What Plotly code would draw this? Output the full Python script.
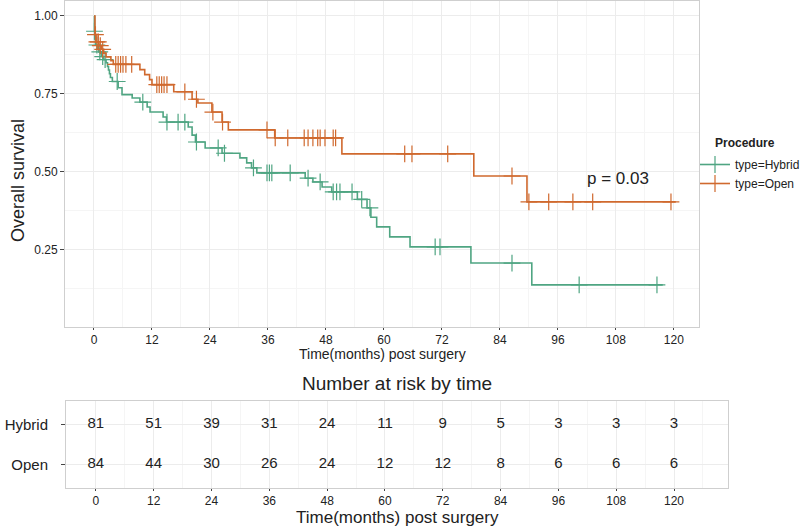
import numpy as np
import plotly.graph_objects as go

# ---------------- data ----------------
hybrid_time = [0, 0.1, 0.2, 0.3, 0.8, 1.0, 1.5, 2.0, 2.5, 2.8, 3.0, 3.2, 3.4, 3.8, 5.0, 5.8,
               7.9, 9.5, 11.0, 11.6, 14.3, 15.0, 19.5, 20.3, 21.0, 23.0, 26.5, 30.2, 31.6,
               32.6, 33.7, 43.7, 45.3, 47.2, 49.2, 54.5, 56.5, 57.3, 58.5, 61.2, 65.4, 78.0,
               90.6, 117.7]
hybrid_surv = [1.0, 0.951, 0.926, 0.907, 0.895, 0.885, 0.870, 0.860, 0.850, 0.838, 0.827, 0.815,
               0.803, 0.790, 0.770, 0.748, 0.737, 0.724, 0.708, 0.692, 0.676, 0.660, 0.644,
               0.618, 0.596, 0.577, 0.560, 0.545, 0.529, 0.513, 0.497, 0.480, 0.468, 0.452,
               0.436, 0.412, 0.385, 0.355, 0.324, 0.292, 0.260, 0.208, 0.138, 0.138]
hybrid_censor = [0.1, 0.6, 1.2, 1.8, 2.3, 4.8, 10.1, 15.1, 17.4, 18.8, 21.2, 25.7, 27.0, 33.0,
                 35.8, 36.3, 36.8, 40.6, 44.3, 46.8, 49.5, 50.2, 50.9, 53.4, 55.4, 57.1,
                 70.6, 71.6, 86.5, 100.4, 116.5]

open_time = [0, 0.2, 0.4, 1.0, 1.5, 2.0, 2.5, 3.5, 4.0, 9.5, 10.5, 11.5, 12.0, 16.5, 20.3,
             21.5, 24.4, 26.5, 27.8, 37.4, 51.3, 78.6, 89.6, 120.4]
open_surv = [1.0, 0.940, 0.917, 0.905, 0.893, 0.881, 0.869, 0.857, 0.845, 0.828, 0.812, 0.796,
             0.780, 0.757, 0.733, 0.721, 0.692, 0.660, 0.635, 0.609, 0.558, 0.487, 0.404, 0.404]
open_censor = [0.3, 0.6, 0.9, 1.3, 1.8, 4.5, 5.0, 5.5, 6.0, 6.6, 7.8, 13.0, 13.5, 14.0, 14.5,
               15.1, 18.8, 21.2, 24.6, 26.6, 35.8, 37.5, 40.1, 43.5, 44.3, 45.3, 46.3, 46.8,
               47.8, 49.5, 50.0, 64.3, 65.8, 73.2, 86.5, 90.0, 94.1, 99.1, 103.2, 119.4]

risk_times = [0, 12, 24, 36, 48, 60, 72, 84, 96, 108, 120]
risk_hybrid = [81, 51, 39, 31, 24, 11, 9, 5, 3, 3, 3]
risk_open = [84, 44, 30, 26, 24, 12, 12, 8, 6, 6, 6]

groups = ["Hybrid", "Open"]
legend_labels = ["type=Hybrid", "type=Open"]
p_text = "p = 0.03"

# ---------------- style ----------------
GREEN = "#4fa582"
ORANGE = "#d0692e"
FONT = "Liberation Sans, Arial, sans-serif"
TXT = "#222222"
W, H = 800, 526


def step_value(times, survs, t):
    idx = np.searchsorted(np.array(times), t, side="right") - 1
    return survs[max(idx, 0)]


fig = go.Figure()

series = [
    (hybrid_time, hybrid_surv, hybrid_censor, GREEN, legend_labels[0]),
    (open_time, open_surv, open_censor, ORANGE, legend_labels[1]),
]
for times, survs, cens, col, lab in series:
    fig.add_trace(go.Scatter(x=times, y=survs, mode="lines", line=dict(color=col, width=1.6, shape="hv"),
                             showlegend=False, xaxis="x", yaxis="y", hoverinfo="skip"))
    fig.add_trace(go.Scatter(x=cens, y=[step_value(times, survs, c) for c in cens], mode="markers",
                             marker=dict(symbol="cross-thin", size=12, line=dict(color=col, width=1.2)),
                             showlegend=False, xaxis="x", yaxis="y", hoverinfo="skip"))
for times, survs, cens, col, lab in series:
    fig.add_trace(go.Scatter(x=[None], y=[None], mode="lines+markers", name=lab,
                             line=dict(color=col, width=1.6),
                             marker=dict(symbol="cross-thin", size=12, line=dict(color=col, width=1.2)),
                             xaxis="x", yaxis="y"))

# risk table
for gi, (g, vals) in enumerate([(groups[0], risk_hybrid), (groups[1], risk_open)]):
    fig.add_trace(go.Scatter(x=risk_times, y=[g] * len(risk_times), mode="text",
                             text=[str(v) for v in vals],
                             textfont=dict(family=FONT, size=15, color=TXT),
                             showlegend=False, xaxis="x2", yaxis="y2", hoverinfo="skip"))

grid_major = "#ececec"
grid_minor = "#f5f5f5"
border = "#cfcfcf"

common_x = dict(tickmode="array", tickvals=risk_times, ticktext=[str(t) for t in risk_times],
                ticks="outside", ticklen=2, tickcolor="#444", tickwidth=1,
                showgrid=True, gridcolor=grid_major, gridwidth=1,
                minor=dict(dtick=12, tick0=6, showgrid=True, gridcolor=grid_minor, gridwidth=1),
                zeroline=False, showline=True, linecolor=border, mirror=True, linewidth=1,
                automargin=False)


def ann(text, x, y, size, bold=False, angle=0, xanchor="center"):
    return dict(text=f"<b>{text}</b>" if bold else text, x=x / W, y=1 - y / H,
                xref="paper", yref="paper", xanchor=xanchor, yanchor="middle",
                textangle=angle, showarrow=False, font=dict(size=size, color=TXT))


fig.update_layout(
    width=W, height=H, autosize=False,
    margin=dict(l=0, r=0, t=0, b=0, autoexpand=False),
    paper_bgcolor="white", plot_bgcolor="white",
    font=dict(family=FONT, color=TXT),
    xaxis=dict(domain=[65 / W, 699 / W], range=[-6, 125.2], anchor="y",
               tickfont=dict(size=12, color=TXT), **common_x),
    yaxis=dict(domain=[1 - 327 / H, 1 - 1 / H], range=[0.003, 1.048], anchor="x",
               tickmode="array", tickvals=[0.25, 0.5, 0.75, 1.0],
               ticktext=["0.25", "0.50", "0.75", "1.00"], tickfont=dict(size=12, color=TXT),
               ticks="outside", ticklen=4, tickcolor="#444",
               showgrid=True, gridcolor=grid_major,
               minor=dict(tickvals=[0.125, 0.375, 0.625, 0.875], showgrid=True, gridcolor=grid_minor),
               zeroline=False, showline=True, linecolor=border, mirror=True, automargin=False),
    xaxis2=dict(domain=[66 / W, 728 / W], range=[-6.2, 131.2], anchor="y2",
                tickfont=dict(size=12, color=TXT), **common_x),
    yaxis2=dict(domain=[1 - 488 / H, 1 - 401 / H], anchor="x2", type="category",
                categoryorder="array", categoryarray=[groups[1], groups[0]], range=[-0.6, 1.6],
                tickfont=dict(size=15, color=TXT), ticks="outside", ticklen=4, tickcolor="#444",
                ticklabelstandoff=10,
                showgrid=True, gridcolor=grid_major, zeroline=False,
                showline=True, linecolor=border, mirror=True, automargin=False),
    legend=dict(x=695 / W, y=1 - 150 / H, xanchor="left", yanchor="top",
                font=dict(size=12, color=TXT), itemwidth=30, tracegroupgap=0,
                bgcolor="rgba(0,0,0,0)"),
    annotations=[
        ann("Overall survival", 18, 181, 18, angle=-90),
        ann("Time(months) post surgery", 382, 354, 14),
        dict(text=p_text, x=108.4, y=0.48, xref="x", yref="y", showarrow=False,
             xanchor="center", yanchor="middle", font=dict(size=17, color=TXT)),
        ann("Procedure", 713, 143, 12, bold=True, xanchor="left"),
        ann("Number at risk by time", 397, 383, 19),
        ann("Time(months) post surgery", 397, 517, 17),
    ],
)

fig.write_html("out.html", post_script="document.body.style.margin='0';",
               config={"displayModeBar": False})
